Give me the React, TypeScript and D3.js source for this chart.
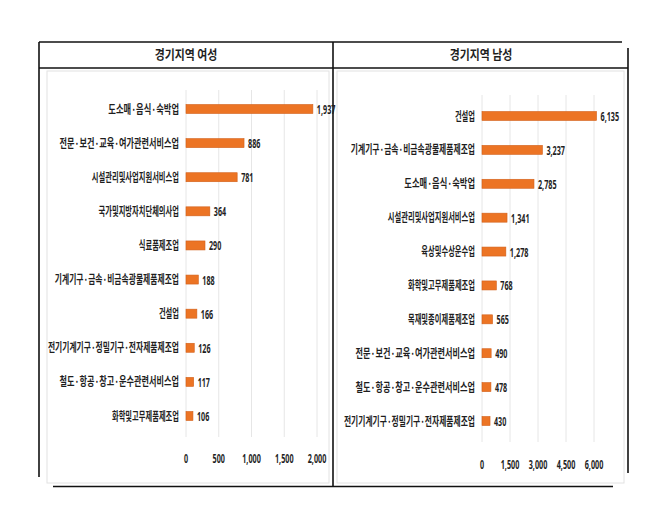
import React, { useLayoutEffect, useRef, useState } from "react";
import * as d3 from "d3";

const femaleCategories = [
  "도소매·음식·숙박업",
  "전문·보건·교육·여가관련서비스업",
  "시설관리및사업지원서비스업",
  "국가및지방자치단체의사업",
  "식료품제조업",
  "기계기구·금속·비금속광물제품제조업",
  "건설업",
  "전기기계기구·정밀기구·전자제품제조업",
  "철도·항공·창고·운수관련서비스업",
  "화학및고무제품제조업",
];
const femaleValues = [1937, 886, 781, 364, 290, 188, 166, 126, 117, 106];
const femaleTicks = [0, 500, 1000, 1500, 2000];

const maleCategories = [
  "건설업",
  "기계기구·금속·비금속광물제품제조업",
  "도소매·음식·숙박업",
  "시설관리및사업지원서비스업",
  "육상및수상운수업",
  "화학및고무제품제조업",
  "목재및종이제품제조업",
  "전문·보건·교육·여가관련서비스업",
  "철도·항공·창고·운수관련서비스업",
  "전기기계기구·정밀기구·전자제품제조업",
];
const maleValues = [6135, 3237, 2785, 1341, 1278, 768, 565, 490, 478, 430];
const maleTicks = [0, 1500, 3000, 4500, 6000];

const titles = ["경기지역 여성", "경기지역  남성"];

const FONT = "'Noto Sans CJK KR', 'Noto Sans', sans-serif";
const NUMFONT = "'Noto Sans', 'Noto Sans CJK KR', sans-serif";
const BAR = "#EC7424";
const BAR_EDGE = "#D2601A";
const TXT = "#1e1e1e";
const fmt = d3.format(",");

// target rendered width of a condensed label: per hangul glyph and per separator dot
function labelWidth(s: string) {
  let w = 0;
  for (const ch of s) w += ch === "·" ? 8.5 : 6.7;
  return w;
}
// target rendered width of a condensed number
function numWidth(s: string) {
  let w = 0;
  for (const ch of s) w += ch === "," ? 2.2 : 4.1;
  return w;
}

type FitProps = {
  x: number;
  y: number;
  anchor: "start" | "middle" | "end";
  width: number;
  family: string;
  size: number;
  text: string;
};

function FitText(p: FitProps) {
  const ref = useRef<SVGTextElement>(null);
  const [k, setK] = useState(0.6);
  useLayoutEffect(() => {
    if (ref.current) {
      const n = ref.current.getComputedTextLength();
      if (n > 0) setK(p.width / n);
    }
  }, [p.width, p.text]);
  return (
    <text
      ref={ref}
      transform={`translate(${p.x},${p.y}) scale(${k},1)`}
      textAnchor={p.anchor}
      fontFamily={p.family}
      fontWeight={700}
      fontSize={p.size}
      fill={TXT}
    >
      {p.text}
    </text>
  );
}

type PanelProps = {
  title: string;
  titleX: number;
  categories: string[];
  values: number[];
  ticks: number[];
  x0: number;
  x1: number;
  yTop: number;
  yBottom: number;
  gridTop: number;
  gridBottom: number;
  tickY: number;
};

function Panel(p: PanelProps) {
  const x = d3
    .scaleLinear()
    .domain([p.ticks[0], p.ticks[p.ticks.length - 1]])
    .range([p.x0, p.x1]);
  const y = d3.scalePoint<string>().domain(p.categories).range([p.yTop, p.yBottom]);
  const bh = 9;
  return (
    <g>
      <text
        transform={`translate(${p.titleX},59) scale(0.84,1)`}
        textAnchor="middle"
        fontFamily={FONT}
        fontWeight={700}
        fontSize={13}
        fill={TXT}
      >
        {p.title}
      </text>
      {p.ticks.map((t) => (
        <line
          key={"g" + t}
          x1={x(t)}
          x2={x(t)}
          y1={p.gridTop}
          y2={p.gridBottom}
          stroke="#e6e6e6"
          strokeWidth={1}
        />
      ))}
      {p.ticks.map((t) => {
        const s = fmt(t);
        return (
          <FitText
            key={"t" + t}
            x={x(t)}
            y={p.tickY}
            anchor="middle"
            width={numWidth(s)}
            family={NUMFONT}
            size={13}
            text={s}
          />
        );
      })}
      {p.categories.map((c, i) => {
        const cy = y(c) as number;
        const v = p.values[i];
        const s = fmt(v);
        return (
          <g key={c}>
            <FitText
              x={p.x0 - 7}
              y={cy + 4.5}
              anchor="end"
              width={labelWidth(c)}
              family={FONT}
              size={12}
              text={c}
            />
            <rect
              x={x(0)}
              y={cy - bh / 2}
              width={x(v) - x(0)}
              height={bh}
              fill={BAR}
              stroke={BAR_EDGE}
              strokeWidth={0.6}
            />
            <FitText
              x={x(v) + 4}
              y={cy + 5}
              anchor="start"
              width={numWidth(s)}
              family={NUMFONT}
              size={13}
              text={s}
            />
          </g>
        );
      })}
    </g>
  );
}

export default function App() {
  return (
    <svg
      width={664}
      height={521}
      style={{ position: "absolute", left: 0, top: 0, background: "#fff" }}
    >
      <rect x={0} y={0} width={664} height={521} fill="#fff" />
      <rect x={47} y={71} width={282} height={412} fill="none" stroke="#e2e2e2" strokeWidth={1} />
      <rect x={337} y={71} width={287} height={412} fill="none" stroke="#e2e2e2" strokeWidth={1} />
      <g stroke="#111" strokeWidth={1.6} fill="none">
        <line x1={39} x2={622} y1={42} y2={42} />
        <line x1={39} x2={628} y1={68} y2={68} />
        <line x1={39} x2={39} y1={42} y2={477} />
        <line x1={53} x2={613} y1={486.5} y2={486.5} />
        <line x1={628} x2={628} y1={48} y2={473} />
        <line x1={333} x2={333} y1={42} y2={487} />
      </g>
      <Panel
        title={titles[0]}
        titleX={186}
        categories={femaleCategories}
        values={femaleValues}
        ticks={femaleTicks}
        x0={186}
        x1={317}
        yTop={109}
        yBottom={416}
        gridTop={90}
        gridBottom={437}
        tickY={463}
      />
      <Panel
        title={titles[1]}
        titleX={481}
        categories={maleCategories}
        values={maleValues}
        ticks={maleTicks}
        x0={482}
        x1={594}
        yTop={116}
        yBottom={421}
        gridTop={95}
        gridBottom={442}
        tickY={469}
      />
    </svg>
  );
}
